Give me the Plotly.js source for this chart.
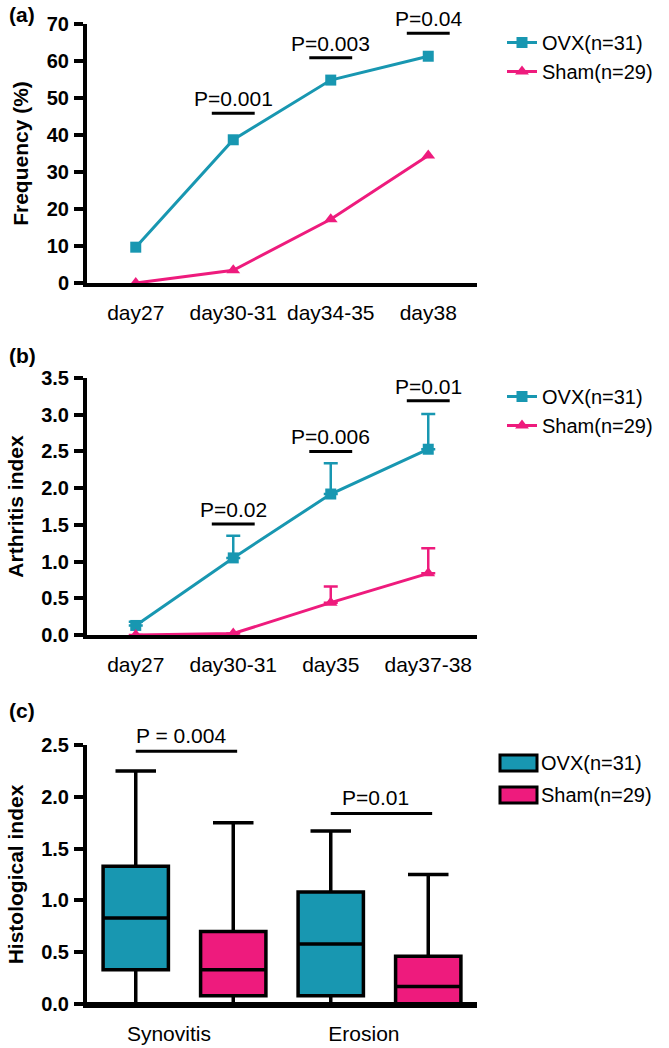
<!DOCTYPE html>
<html>
<head>
<meta charset="utf-8">
<script src="https://cdn.plot.ly/plotly-3.0.1.min.js"></script>
<style>
html,body{margin:0;padding:0;background:#fff;}
#chart{width:669px;height:1048px;}
</style>
</head>
<body>
<div id="chart"></div>
<script>
// ---------- data ----------
var daysA = ['day27', 'day30-31', 'day34-35', 'day38'];
var freqOVX = [9.68, 38.71, 54.84, 61.29];
var freqSham = [0, 3.45, 17.24, 34.48];
var pA = ['P=0.001', 'P=0.003', 'P=0.04'];
var pAcat = [1, 2, 3];
var pAy = [45.9, 60.9, 67.5];

var daysB = ['day27', 'day30-31', 'day35', 'day37-38'];
var aiOVX = [0.13, 1.05, 1.92, 2.53];
var aiOVXerr = [0.05, 0.30, 0.42, 0.48];
var aiSham = [0, 0.02, 0.44, 0.84];
var aiShamErr = [0, 0, 0.22, 0.34];
var pB = ['P=0.02', 'P=0.006', 'P=0.01'];
var pBcat = [1, 2, 3];
var pBy = [1.51, 2.50, 3.19];

var histCats = ['Synovitis', 'Erosion'];
var ovxQ1 = [0.33, 0.08], ovxMed = [0.83, 0.58], ovxQ3 = [1.33, 1.08], ovxLo = [0, 0], ovxHi = [2.25, 1.67];
var shamQ1 = [0.08, 0], shamMed = [0.33, 0.17], shamQ3 = [0.70, 0.46], shamLo = [0, 0], shamHi = [1.75, 1.25];
var pC = ['P = 0.004', 'P=0.01'];
var pCcat = [0, 1];
var pCy = [2.44, 1.84];

var seriesNames = ['OVX(n=31)', 'Sham(n=29)'];

// ---------- style ----------
var TEAL = '#1897B1';
var PINK = '#EE1B7D';
var FONT = 'Liberation Sans, Arial, Helvetica, sans-serif';
var W = 669, H = 1048;
var xDom = [87 / W, 477 / W];
function yDom(top, bot) { return [1 - bot / H, 1 - top / H]; }

function lineTrace(x, y, err, name, color, symbol, xa, ya, legend, size) {
  var t = {
    x: x, y: y, name: name, type: 'scatter', mode: 'lines+markers',
    line: {color: color, width: 3},
    marker: {color: color, symbol: symbol, size: size},
    xaxis: xa, yaxis: ya, legend: legend, showlegend: true,
    legendgroup: name + legend, cliponaxis: false
  };
  if (err) {
    t.error_y = {type: 'data', symmetric: false, array: err,
      arrayminus: err.map(function () { return 0; }),
      color: color, thickness: 2.5, width: 7};
  }
  return t;
}

var data = [
  lineTrace(daysA, freqOVX, null, seriesNames[0], TEAL, 'square', 'x', 'y', 'legend', 11),
  lineTrace(daysA, freqSham, null, seriesNames[1], PINK, 'triangle-up', 'x', 'y', 'legend', 12),
  lineTrace(daysB, aiOVX, aiOVXerr, seriesNames[0], TEAL, 'square', 'x2', 'y2', 'legend2', 11),
  lineTrace(daysB, aiSham, aiShamErr, seriesNames[1], PINK, 'triangle-up', 'x2', 'y2', 'legend2', 12),
  {
    type: 'box', name: seriesNames[0], x: histCats,
    q1: ovxQ1, median: ovxMed, q3: ovxQ3, lowerfence: ovxLo, upperfence: ovxHi,
    fillcolor: TEAL, line: {color: '#000', width: 3.5}, whiskerwidth: 0.62,
    xaxis: 'x3', yaxis: 'y3', showlegend: false, hoverinfo: 'skip'
  },
  {
    type: 'box', name: seriesNames[1], x: histCats,
    q1: shamQ1, median: shamMed, q3: shamQ3, lowerfence: shamLo, upperfence: shamHi,
    fillcolor: PINK, line: {color: '#000', width: 3.5}, whiskerwidth: 0.62,
    xaxis: 'x3', yaxis: 'y3', showlegend: false, hoverinfo: 'skip'
  }
];

function xAxis(anchor, rng) {
  return {
    domain: xDom, anchor: anchor, range: rng,
    showline: true, linecolor: '#000', linewidth: 4,
    ticks: '', showgrid: false, zeroline: false,
    tickfont: {family: FONT, size: 21, color: '#000'},
    ticklabelstandoff: 8, automargin: false, fixedrange: true
  };
}
function yAxis(anchor, dom, rng, dtick, fmt, title) {
  return {
    domain: dom, anchor: anchor, range: rng, dtick: dtick, tick0: 0, tickformat: fmt,
    showline: true, linecolor: '#000', linewidth: 4,
    ticks: 'outside', ticklen: 9, tickwidth: 4, tickcolor: '#000',
    showgrid: false, zeroline: false,
    tickfont: {family: FONT, size: 20, color: '#000', weight: 700},
    ticklabelstandoff: 1,
    title: {text: title, font: {family: FONT, size: 21, color: '#000', weight: 700}, standoff: 13},
    automargin: false, fixedrange: true
  };
}

var shapes = [], annotations = [];
function sig(labels, cats, ys, xref, yref, half, fs) {
  for (var i = 0; i < labels.length; i++) {
    shapes.push({type: 'line', xref: xref, yref: yref,
      x0: cats[i] - half, x1: cats[i] + half, y0: ys[i], y1: ys[i],
      line: {color: '#000', width: 3}});
    annotations.push({xref: xref, yref: yref, x: cats[i], y: ys[i], text: labels[i],
      showarrow: false, yanchor: 'bottom', yshift: 1,
      font: {family: FONT, size: fs, color: '#000'}});
  }
}
sig(pA, pAcat, pAy, 'x', 'y', 0.22, 21);
sig(pB, pBcat, pBy, 'x2', 'y2', 0.22, 21);
// panel c: bars span OVX box center to Sham box center within each group
for (var i = 0; i < pC.length; i++) {
  shapes.push({type: 'line', xref: 'x3', yref: 'y3',
    x0: pCcat[i] - 0.25, x1: pCcat[i] + 0.27, y0: pCy[i], y1: pCy[i],
    line: {color: '#000', width: 3}});
  annotations.push({xref: 'x3', yref: 'y3', x: pCcat[i] - 0.02, y: pCy[i], text: pC[i],
    showarrow: false, yanchor: 'bottom', yshift: 2,
    font: {family: FONT, size: 21, color: '#000'}});
}
// x-axis baseline of panel c drawn over the whisker caps at zero
shapes.push({type: 'line', xref: 'x3 domain', yref: 'y3', x0: 0, x1: 1, y0: 0, y1: 0,
  line: {color: '#000', width: 4}, layer: 'above'});

// panel letters
[['(a)', 15], ['(b)', 355], ['(c)', 710]].forEach(function (p) {
  annotations.push({xref: 'paper', yref: 'paper', x: 7 / W, y: 1 - p[1] / H,
    xanchor: 'left', yanchor: 'middle', text: p[0], showarrow: false,
    font: {family: FONT, size: 21, color: '#000', weight: 700}});
});

// legend for box panel (c)
var boxLeg = [[seriesNames[0], TEAL, 763], [seriesNames[1], PINK, 795]];
boxLeg.forEach(function (b) {
  shapes.push({type: 'rect', xref: 'paper', yref: 'paper',
    x0: 500 / W, x1: 537 / W, y0: 1 - (b[2] + 8) / H, y1: 1 - (b[2] - 8) / H,
    fillcolor: b[1], line: {color: '#000', width: 3}});
  annotations.push({xref: 'paper', yref: 'paper', x: 539 / W, y: 1 - b[2] / H,
    xanchor: 'left', yanchor: 'middle', text: b[0], showarrow: false,
    font: {family: FONT, size: 20, color: '#000'}});
});

var legendStyle = function (yTop) {
  return {x: 502 / W, y: 1 - yTop / H, xanchor: 'left', yanchor: 'top',
    font: {family: FONT, size: 20, color: '#000'}, bgcolor: 'rgba(0,0,0,0)',
    tracegroupgap: 0, itemwidth: 30};
};

var layout = {
  width: W, height: H,
  margin: {l: 0, r: 0, t: 0, b: 0},
  paper_bgcolor: '#fff', plot_bgcolor: '#fff',
  showlegend: true,
  font: {family: FONT, color: '#000'},
  xaxis: xAxis('y', [-0.5, 3.5]),
  yaxis: yAxis('x', yDom(24, 283), [0, 70], 10, 'd', 'Frequency (%)'),
  xaxis2: xAxis('y2', [-0.5, 3.5]),
  yaxis2: yAxis('x2', yDom(378, 635), [0, 3.5], 0.5, '.1f', 'Arthritis index'),
  xaxis3: Object.assign(xAxis('y3', [-0.5, 1.5]), {tickmode: 'array', tickvals: [-0.08, 0.92], ticktext: histCats}),
  yaxis3: yAxis('x3', yDom(745, 1004), [0, 2.5], 0.5, '.1f', 'Histological index'),
  boxmode: 'group', boxgap: 0, boxgroupgap: 0.33,
  legend: legendStyle(23),
  legend2: legendStyle(377),
  shapes: shapes,
  annotations: annotations
};

Plotly.newPlot('chart', data, layout, {displayModeBar: false, staticPlot: true});
</script>
</body>
</html>
